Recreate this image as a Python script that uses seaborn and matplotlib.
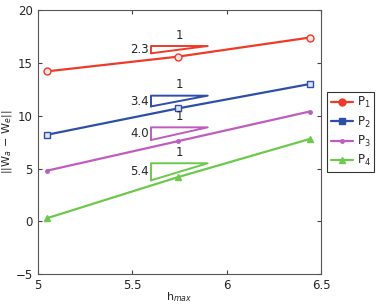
import numpy as np
import pandas as pd
import matplotlib
matplotlib.use('Agg')
import matplotlib.pyplot as plt
import seaborn as sns

# values
h_max = [5.05, 5.745, 6.44]
series = ['P$_1$', 'P$_2$', 'P$_3$', 'P$_4$']
err_p1 = [14.2, 15.6, 17.4]
err_p2 = [8.2, 10.7, 13.0]
err_p3 = [4.8, 7.6, 10.4]
err_p4 = [0.3, 4.2, 7.8]
slopes = [2.3, 3.4, 4.0, 5.4]
tri_top = [16.6, 11.9, 8.9, 5.5]

colors = ['#f03a28', '#2d4fa8', '#c05cc0', '#6cc94c']
markers = ['o', 's', '.', '^']

df = pd.DataFrame({
    'h': h_max * 4,
    'err': err_p1 + err_p2 + err_p3 + err_p4,
    'series': [s for s in series for _ in h_max],
})

sns.set_style('ticks')
plt.rcParams['font.family'] = ['DejaVu Sans']

fig = plt.figure(figsize=(3.76, 3.06), dpi=100)
ax = fig.add_axes([0.100, 0.104, 0.754, 0.863])

sns.lineplot(data=df, x='h', y='err', hue='series', style='series',
             palette=colors, markers=dict(zip(series, markers)), dashes=False,
             lw=1.6, markersize=5, ax=ax, legend=False)
for line, c in zip(ax.lines, colors):
    line.set_markeredgecolor(c)
    line.set_markeredgewidth(1.0)
ax.lines[0].set_markerfacecolor('#fde5e2')
ax.lines[1].set_markerfacecolor('#dfe5f3')

# slope triangles
x0, x1 = 5.6, 5.9
for s, top, c in zip(slopes, tri_top, colors):
    bot = top - (x1 - x0) * s
    ax.plot([x0, x0, x1, x0], [bot, top, top, bot], color=c, lw=1.4)
    ax.text(x0 - 0.01, (top + bot) / 2, f'{s:.1f}', ha='right', va='center', fontsize=8.5)
    ax.text((x0 + x1) / 2, top + 0.4, '1', ha='center', va='bottom', fontsize=8.5)

ax.set_xlim(5, 6.5)
ax.set_ylim(-5, 20)
ax.set_xticks([5, 5.5, 6, 6.5])
ax.set_xticklabels(['5', '5.5', '6', '6.5'])
ax.set_yticks([-5, 0, 5, 10, 15, 20])
ax.tick_params(direction='in', top=True, right=True, labelsize=8.5, length=3, color='#444444')
for sp in ax.spines.values():
    sp.set_color('#555555')
    sp.set_linewidth(0.8)
ax.set_xlabel('h$_{max}$', fontsize=8, labelpad=-1)
ax.set_ylabel('||W$_a$ − W$_e$||', fontsize=8, labelpad=1)

handles = [plt.Line2D([], [], color=c, marker=m, lw=1.6, markersize=5) for c, m in zip(colors, markers)]
leg = fig.legend(handles, series, loc='upper right', bbox_to_anchor=(0.995, 0.70),
                 fontsize=8.5, frameon=True, fancybox=False, handlelength=1.9,
                 borderpad=0.3, borderaxespad=0, labelspacing=0.35,
                 handletextpad=0.3)
leg.get_frame().set_edgecolor('black')
leg.get_frame().set_linewidth(0.8)

fig.savefig('out.png', dpi=100)
